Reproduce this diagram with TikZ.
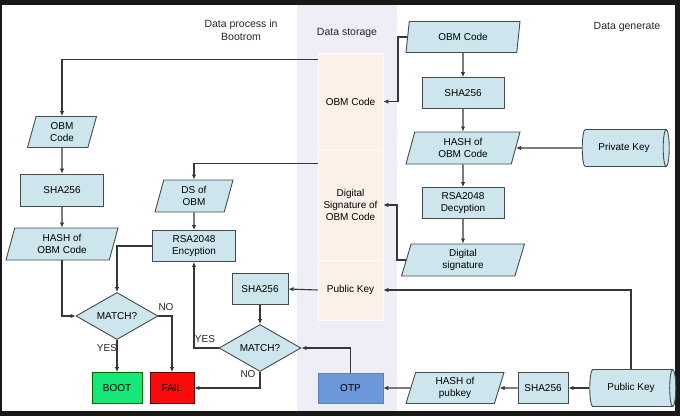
\documentclass[tikz,border=0pt]{standalone}
\usepackage{fontspec}
\setmainfont{Liberation Sans}
\usetikzlibrary{shapes.geometric,arrows.meta,calc}
\definecolor{lb}{RGB}{205,229,237}
\definecolor{bc}{RGB}{70,75,80}
\definecolor{lc}{RGB}{55,55,55}
\definecolor{lav}{RGB}{239,237,245}
\definecolor{peach}{RGB}{253,240,230}
\definecolor{otpc}{RGB}{108,152,217}
\definecolor{bootc}{RGB}{20,232,120}
\definecolor{failc}{RGB}{250,10,10}
\begin{document}
\begin{tikzpicture}[x=1pt,y=-1pt,font=\fontsize{10}{12.3}\selectfont,
  ln/.style={draw=lc,line width=1.1pt,-{Latex[length=5pt,width=4.5pt]}},
  box/.style={draw=bc,fill=lb,line width=0.9pt,inner sep=1pt,align=center},
  para/.style={trapezium,trapezium left angle=66,trapezium right angle=114,trapezium stretches body,draw=bc,fill=lb,line width=0.9pt,align=center,inner sep=0pt},
  dia/.style={diamond,aspect=1.75,draw=bc,fill=lb,line width=0.9pt,inner sep=0pt,minimum width=82,minimum height=47},
  cyl/.style={cylinder,shape aspect=0.65,draw=bc,fill=lb,line width=0.9pt,inner sep=0pt,minimum width=37,minimum height=87},
  stor/.style={fill=peach,draw=white,line width=0.6pt,minimum width=65,align=center,inner sep=0pt},
  lbl/.style={text=black!85},
  ttl/.style={font=\fontsize{10.5}{12.5}\selectfont,text=black!85,align=center}
]
\useasboundingbox (0,0) rectangle (680,416);
\fill[black!90] (0,0) rectangle (680,416);
\fill[white] (2,5) rectangle (675,411);
\fill[lav] (297,5) rectangle (397,411);

% storage column
\node[stor,minimum height=97] (stObm) at (350.5,101.5) {OBM Code};
\node[stor,minimum height=110] (stDs) at (350.5,205) {Digital\\Signature of\\OBM Code};
\node[stor,minimum height=60] (stPub) at (350.5,290) {Public Key};
\node[stor,fill=otpc,draw=otpc!85!black,minimum height=30] (otp) at (350.5,388) {OTP};

% titles
\node[ttl] (t1) at (241,30) {Data process in\\Bootrom};
\node[ttl] (t2) at (347,33) {Data storage};
\node[ttl] (t3) at (627,27) {Data generate};

% right column
\node[para,minimum width=114,minimum height=31] (obmR) at (463,37) {OBM Code};
\node[box,minimum width=82,minimum height=31] (shaR) at (463,93) {SHA256};
\node[para,minimum width=114,minimum height=32] (hashR) at (463,148) {HASH of\\OBM Code};
\node[cyl] (priv) at (624,148) {Private Key};
\node[box,minimum width=82,minimum height=31] (rsaD) at (463,203) {RSA2048\\Decyption};
\node[para,minimum width=123,minimum height=32] (dsig) at (463,260) {Digital\\signature};
\node[cyl,minimum height=86] (pub) at (631,388) {Public Key};
\node[box,minimum width=50,minimum height=31] (shaB) at (543,388) {SHA256};
\node[para,minimum width=98,minimum height=31] (hashP) at (455,388) {HASH of\\pubkey};

% left column
\node[para,minimum width=69,minimum height=31] (obmL) at (62,132) {OBM\\Code};
\node[box,minimum width=83,minimum height=32] (sha1) at (62,190) {SHA256};
\node[para,minimum width=112,minimum height=32] (hashL) at (62,244) {HASH of\\OBM Code};
\node[dia] (match1) at (117,316) {MATCH?};
\node[box,fill=bootc,draw=green!40!black,minimum width=50,minimum height=31] (boot) at (117,388) {BOOT};
\node[box,fill=failc,draw=red!40!black,minimum width=44,minimum height=31] (fail) at (172,388) {FAIL};
\node[para,minimum width=78,minimum height=32] (ds) at (194,196) {DS of\\OBM};
\node[box,minimum width=83,minimum height=31] (rsaE) at (194,246) {RSA2048\\Encyption};
\node[box,minimum width=56,minimum height=31] (shaM) at (260,289) {SHA256};
\node[dia] (match2) at (260,348) {MATCH?};

% branch labels
\node[lbl] (yes1) at (107,348) {YES};
\node[lbl] (no1) at (166,307) {NO};
\node[lbl] (yes2) at (205,339) {YES};
\node[lbl] (no2) at (248,374) {NO};

% connectors right side
\draw[ln] (obmR.west) -| (398,70) |- (stObm.east);
\draw[ln] (obmR.south) -- (shaR.north);
\draw[ln] (shaR.south) -- (hashR.north);
\draw[ln] (hashR.south) -- (rsaD.north);
\draw[ln] (rsaD.south) -- (dsig.north);
\draw[ln] (priv.west) -- (hashR.east);
\draw[ln] (dsig.west) -| (397,230) |- (stDs.east);
\draw[ln] (pub.north) |- (stPub.east);
\draw[ln] (pub.west) -- (shaB.east);
\draw[ln] (shaB.west) -- (hashP.east);
\draw[ln] (hashP.west) -- (otp.east);
\draw[ln] (otp.north) |- (match2.east);
\draw[ln] (stPub.west) -- (shaM.east);
\draw[ln] (shaM.south) -- (match2.north);
\draw[ln] (match2.west) -| (rsaE.south);
\draw[ln] (match2.south) |- (fail.east);

% connectors left side
\draw[ln] ($(stObm.north west)+(0,7)$) -| (obmL.north);
\draw[ln] ($(stDs.north west)+(0,14)$) -| (ds.north);
\draw[ln] (obmL.south) -- (sha1.north);
\draw[ln] (sha1.south) -- (hashL.north);
\draw[ln] (hashL.south) |- (match1.west);
\draw[ln] (rsaE.west) -| (match1.north);
\draw[ln] (ds.south) -- (rsaE.north);
\draw[ln] (match1.south) -- (boot.north);
\draw[ln] (match1.east) -| (fail.north);
\end{tikzpicture}
\end{document}
